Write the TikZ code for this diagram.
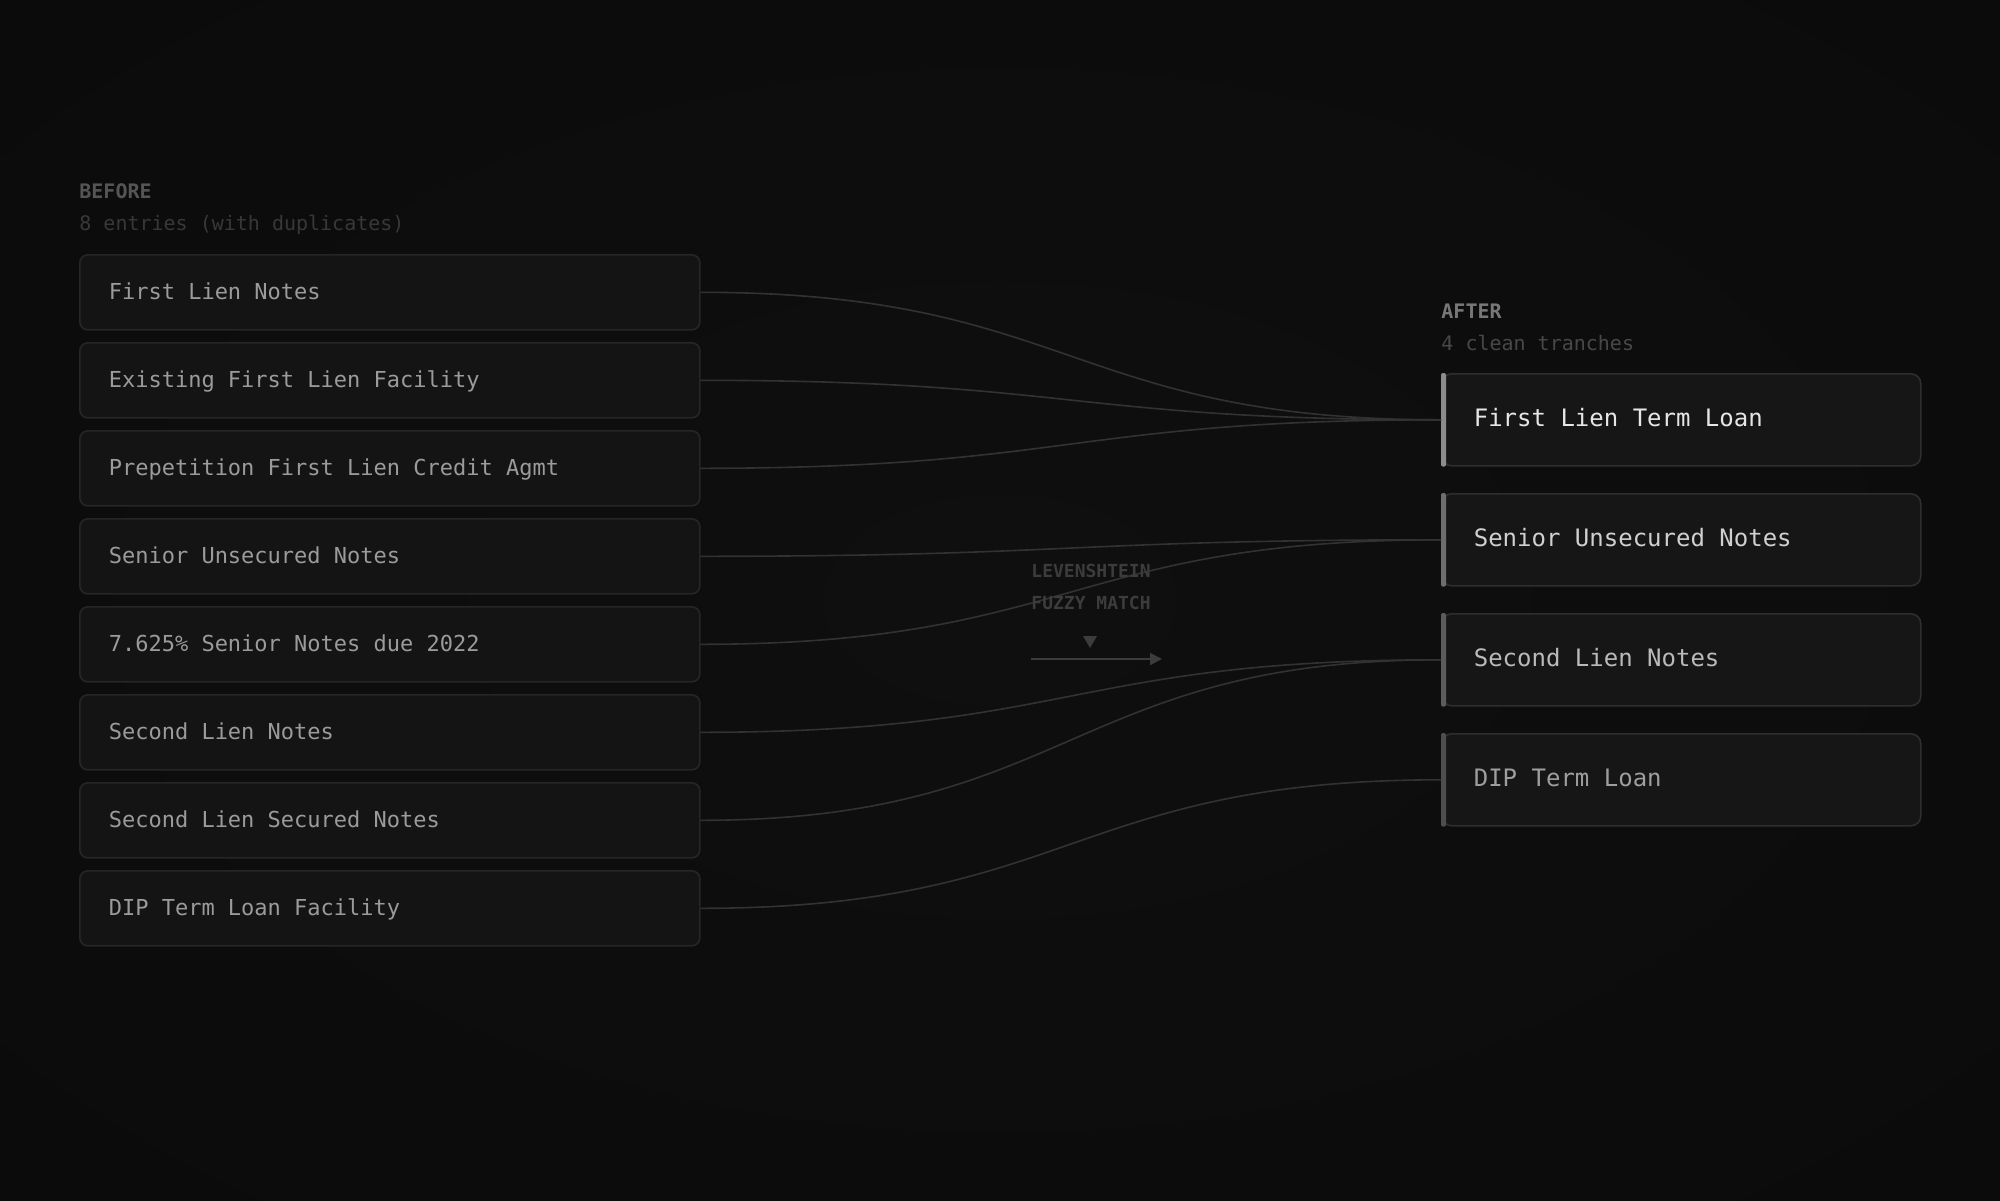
\documentclass[tikz,border=0pt]{standalone}
\usepackage{fontspec}
\setmonofont{DejaVu Sans Mono}
\newfontfamily\dedupmono{DejaVu Sans Mono}
\usepackage{tikz}
\usepackage{xcolor}
\usetikzlibrary{arrows.meta, positioning}
\definecolor{dedupBgMid}{RGB}{15,15,15}
\definecolor{dedupBgEdge}{RGB}{7,7,7}
\definecolor{dedupBox}{RGB}{20,20,20}
\definecolor{dedupBoxLine}{RGB}{38,38,38}
\definecolor{dedupCard}{RGB}{22,22,22}
\definecolor{dedupCardLine}{RGB}{46,46,46}
\definecolor{dedupLink}{RGB}{50,50,50}
\definecolor{dedupText}{RGB}{155,155,155}
\definecolor{dedupHead}{RGB}{85,85,85}
\definecolor{dedupSub}{RGB}{56,56,56}
\definecolor{dedupMute}{RGB}{60,60,60}
\definecolor{dedupAfterHead}{RGB}{120,120,120}
\definecolor{dedupAfterSub}{RGB}{72,72,72}
\definecolor{dedupTextA}{RGB}{230,230,230}
\definecolor{dedupTextB}{RGB}{208,208,208}
\definecolor{dedupTextC}{RGB}{186,186,186}
\definecolor{dedupTextD}{RGB}{158,158,158}
\definecolor{dedupBarA}{RGB}{140,140,140}
\definecolor{dedupBarB}{RGB}{110,110,110}
\definecolor{dedupBarC}{RGB}{92,92,92}
\definecolor{dedupBarD}{RGB}{78,78,78}
\pgfdeclareradialshading{dedupVignette}{\pgfpoint{0bp}{0bp}}{color(0bp)=(dedupBgMid); color(71bp)=(dedupBgEdge)}

\begin{document}
\begin{tikzpicture}[x=0.5pt, y=-0.5pt,
      entry/.style={rounded corners=4pt, draw=dedupBoxLine, fill=dedupBox, line width=0.8pt,
      minimum width=310pt, minimum height=37.5pt, inner xsep=14.5pt, inner ysep=0pt, text width=281pt,
      text height=8pt, text depth=0.8pt, align=flush left, text=dedupText, font=\dedupmono\fontsize{11pt}{13pt}\selectfont},
      tranche/.style={rounded corners=5pt, draw=dedupCardLine, fill=dedupCard, line width=0.8pt,
      minimum width=239.5pt, minimum height=46pt, inner xsep=16pt, inner ysep=0pt, text width=207.5pt,
      text height=8.8pt, text depth=2.6pt, align=flush left, font=\dedupmono\fontsize{12pt}{14pt}\selectfont},
      heading/.style={anchor=base west, inner sep=0pt, font=\dedupmono\bfseries\fontsize{10pt}{12pt}\selectfont},
      caption/.style={anchor=base west, inner sep=0pt, text=dedupSub, font=\dedupmono\fontsize{10pt}{12pt}\selectfont},
      link/.style={draw=dedupLink, line width=0.8pt},
      flow/.style={-{Triangle[length=6pt, width=6pt]}, draw=dedupMute, line width=1pt}
    ]
    % background
    \shade[shading=dedupVignette] (0,0) rectangle (2000,1200);

    % before column
    \node[heading, text=dedupHead] (beforehead) at (79,198) {BEFORE};
    \node[caption] (beforesub) at (79,230) {8 entries (with duplicates)};
    \node[entry, anchor=north west] (l1) at (79,254) {First Lien Notes};
    \node[entry, below=5.7pt of l1] (l2) {Existing First Lien Facility};
    \node[entry, below=5.7pt of l2] (l3) {Prepetition First Lien Credit Agmt};
    \node[entry, below=5.7pt of l3] (l4) {Senior Unsecured Notes};
    \node[entry, below=5.7pt of l4] (l5) {7.625\% Senior Notes due 2022};
    \node[entry, below=5.7pt of l5] (l6) {Second Lien Notes};
    \node[entry, below=5.7pt of l6] (l7) {Second Lien Secured Notes};
    \node[entry, below=5.7pt of l7] (l8) {DIP Term Loan Facility};

    % after column
    \node[heading, text=dedupAfterHead] (afterhead) at (1441,318) {AFTER};
    \node[caption, text=dedupAfterSub] (aftersub) at (1441,350) {4 clean tranches};
    \node[tranche, anchor=north west, text=dedupTextA] (r1) at (1441,373) {First Lien Term Loan};
    \node[tranche, below=13.2pt of r1, text=dedupTextB] (r2) {Senior Unsecured Notes};
    \node[tranche, below=13.2pt of r2, text=dedupTextC] (r3) {Second Lien Notes};
    \node[tranche, below=13.2pt of r3, text=dedupTextD] (r4) {DIP Term Loan};

    % accent bars
    \fill[rounded corners=1pt, dedupBarA] (r1.north west) rectangle ([xshift=2.5pt]r1.south west);
    \fill[rounded corners=1pt, dedupBarB] (r2.north west) rectangle ([xshift=2.5pt]r2.south west);
    \fill[rounded corners=1pt, dedupBarC] (r3.north west) rectangle ([xshift=2.5pt]r3.south west);
    \fill[rounded corners=1pt, dedupBarD] (r4.north west) rectangle ([xshift=2.5pt]r4.south west);

    % matches
    \draw[link] (l1.east) .. controls +(185pt,0) and +(-185pt,0) .. (r1.west);
    \draw[link] (l2.east) .. controls +(185pt,0) and +(-185pt,0) .. (r1.west);
    \draw[link] (l3.east) .. controls +(185pt,0) and +(-185pt,0) .. (r1.west);
    \draw[link] (l4.east) .. controls +(185pt,0) and +(-185pt,0) .. (r2.west);
    \draw[link] (l5.east) .. controls +(185pt,0) and +(-185pt,0) .. (r2.west);
    \draw[link] (l6.east) .. controls +(185pt,0) and +(-185pt,0) .. (r3.west);
    \draw[link] (l7.east) .. controls +(185pt,0) and +(-185pt,0) .. (r3.west);
    \draw[link] (l8.east) .. controls +(185pt,0) and +(-185pt,0) .. (r4.west);

    % method label
    \node[heading, text=dedupMute, font=\dedupmono\bfseries\fontsize{9pt}{11pt}\selectfont] (method) at (1031,577) {LEVENSHTEIN};
    \node[heading, text=dedupMute, font=\dedupmono\bfseries\fontsize{9pt}{11pt}\selectfont] (methodtwo) at (1031,609) {FUZZY MATCH};
    \fill[dedupMute] (1083,636) -- (1097,636) -- (1090,648) -- cycle;
    \coordinate (flowstart) at (1031,659);
    \coordinate (flowend) at (1162,659);
    \draw[flow] (flowstart) -- (flowend);
  \end{tikzpicture}
\end{document}
